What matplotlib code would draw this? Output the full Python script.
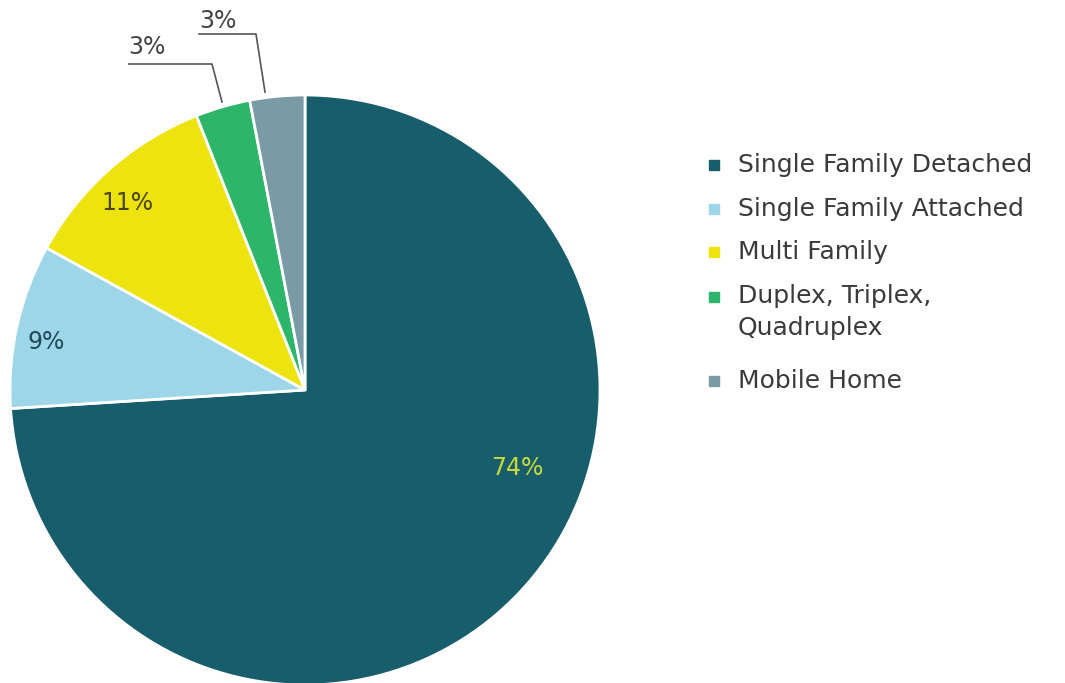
import matplotlib.pyplot as plt
from matplotlib.patches import Rectangle

categories = ["Single Family Detached", "Single Family Attached", "Multi Family",
              "Duplex, Triplex,\nQuadruplex", "Mobile Home"]
shares = [74, 9, 11, 3, 3]
pct_labels = ["74%", "9%", "11%", "3%", "3%"]
colors = ["#175D6B", "#9DD6E8", "#EDE30E", "#2DB56A", "#7A9BA6"]

W, H = 1065, 683
plt.rcParams['font.family'] = ['DejaVu Sans']

fig = plt.figure(figsize=(W / 100, H / 100), dpi=100)
ax = fig.add_axes([0, 0, 1, 1])


def py(y):
    # picture rows run top-down, data y runs bottom-up
    return H - y


ax.pie(shares, colors=colors, startangle=90, counterclock=False,
       center=(305, py(390)), radius=295, frame=True,
       wedgeprops=dict(edgecolor='white', linewidth=2))
ax.set_xlim(0, W)
ax.set_ylim(0, H)
ax.axis('off')

# percentage labels
label_pos = [(517, 468), (46, 342), (128, 203), (147, 47), (218, 21)]
label_col = ["#C9D93C", "#1F4A57", "#4A4410", "#444444", "#444444"]
for txt, (x, y), c in zip(pct_labels, label_pos, label_col):
    ax.text(x, py(y), txt, color=c, fontsize=17, ha='center', va='center')

# leader lines for the two small slices
ax.plot([129, 212, 222], [py(64), py(64), py(102)], color='#555555', lw=1.2)
ax.plot([199, 256, 265], [py(34), py(34), py(92)], color='#555555', lw=1.2)

# legend drawn by hand
leg_y = [165, 209, 252, 297, 381]
for lab, c, y in zip(categories, colors, leg_y):
    ax.add_patch(Rectangle((709, py(y) - 5), 10, 10, color=c))
    if '\n' in lab:
        ax.text(738, py(y) + 13, lab, fontsize=18, color='#3A3A3A',
                va='top', linespacing=1.4)
    else:
        ax.text(738, py(y), lab, fontsize=18, color='#3A3A3A', va='center')

plt.savefig("out.png", dpi=100)
